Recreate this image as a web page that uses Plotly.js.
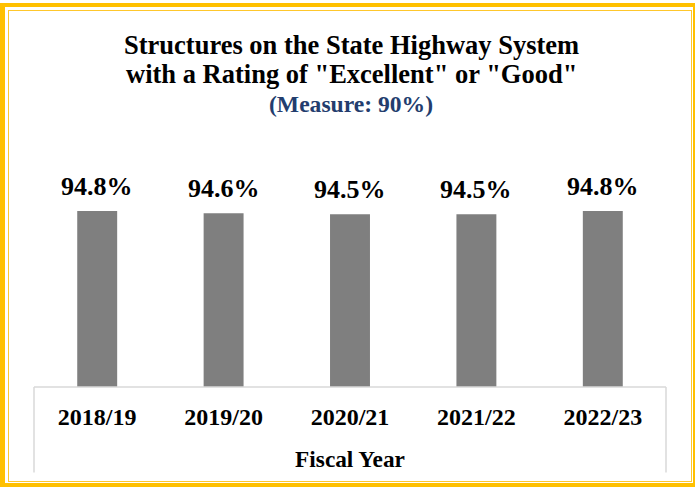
<!DOCTYPE html>
<html>
<head>
<meta charset="utf-8">
<script src="https://cdn.plot.ly/plotly-3.0.1.min.js"></script>
<style>
  html, body { margin: 0; padding: 0; background: #fff; }
  #wrap { position: relative; width: 695px; height: 487px; }
  #chart { position: absolute; left: 0; top: 0; width: 695px; height: 487px; }
  .frame { position: absolute; box-sizing: border-box; pointer-events: none; }
  #outer { left: 0; top: 3px; width: 695px; height: 484px; border-style: solid; border-color: #FFC000; border-width: 4px 2.5px 4px 5px; }
  #inner { left: 7.5px; top: 9.5px; width: 684px; height: 472px; border: 1px solid #FFC72C; }
</style>
</head>
<body>
<div id="wrap">
  <div id="chart"></div>
  <div id="outer" class="frame"></div>
  <div id="inner" class="frame"></div>
</div>
<script>
const categories = ["2018/19", "2019/20", "2020/21", "2021/22", "2022/23"];
const values = [94.8, 94.6, 94.5, 94.5, 94.8];
const labels = ["94.8%", "94.6%", "94.5%", "94.5%", "94.8%"];
const titleLine1 = "Structures on the State Highway System";
const titleLine2 = 'with a Rating of "Excellent" or "Good"';
const titleLine3 = "(Measure: 90%)";
const axisTitle = "Fiscal Year";

const FONT = "'Liberation Serif', 'Times New Roman', Times, serif";

const trace = {
  type: "bar",
  x: categories,
  y: values,
  marker: { color: "#7F7F7F" },
  hoverinfo: "skip"
};

const annotations = [];
categories.forEach((c, i) => {
  annotations.push({
    x: c, y: values[i], xref: "x", yref: "y",
    text: "<b>" + labels[i] + "</b>",
    showarrow: false, yanchor: "middle", yshift: 25,
    font: { family: FONT, size: 26, color: "#000" }
  });
});
const T = [
  { t: titleLine1, y: 1.474, size: 26.5, color: "#000" },
  { t: titleLine2, y: 1.349, size: 26.5, color: "#000" },
  { t: titleLine3, y: 1.218, size: 23.6, color: "#233D6E" }
];
T.forEach(o => annotations.push({
  x: 0.5016, y: o.y, xref: "paper", yref: "paper",
  text: "<b>" + o.t + "</b>",
  showarrow: false, xanchor: "center", yanchor: "middle",
  font: { family: FONT, size: o.size, color: o.color }
}));

const lineColor = "#D9D9D9";
const shapes = [
  { type: "line", xref: "paper", yref: "paper", x0: 0, x1: 1, y0: 0, y1: 0, line: { color: lineColor, width: 1.5 } },
  { type: "line", xref: "paper", yref: "paper", x0: 0, x1: 0, y0: 0, y1: -0.368, line: { color: lineColor, width: 1.5 } },
  { type: "line", xref: "paper", yref: "paper", x0: 1, x1: 1, y0: 0, y1: -0.368, line: { color: lineColor, width: 1.5 } }
];

const layout = {
  width: 695, height: 487,
  margin: { l: 34, r: 29, t: 155, b: 100, pad: 0 },
  paper_bgcolor: "#FFFFFF",
  plot_bgcolor: "#FFFFFF",
  showlegend: false,
  bargap: 0.684,
  font: { family: FONT, color: "#000" },
  xaxis: {
    type: "category",
    showline: false, showgrid: false, zeroline: false,
    ticks: "outside", ticklen: 8, tickcolor: "rgba(0,0,0,0)",
    tickfont: { family: FONT, size: 24, color: "#000", weight: "bold" },
    title: { text: "<b>" + axisTitle + "</b>", standoff: 21, font: { family: FONT, size: 23.3, color: "#000" } },
    automargin: false
  },
  yaxis: {
    range: [78.5, 100],
    visible: false,
    showgrid: false, zeroline: false, showline: false
  },
  annotations: annotations,
  shapes: shapes
};

Plotly.newPlot("chart", [trace], layout, { displayModeBar: false, staticPlot: true });
</script>
</body>
</html>
